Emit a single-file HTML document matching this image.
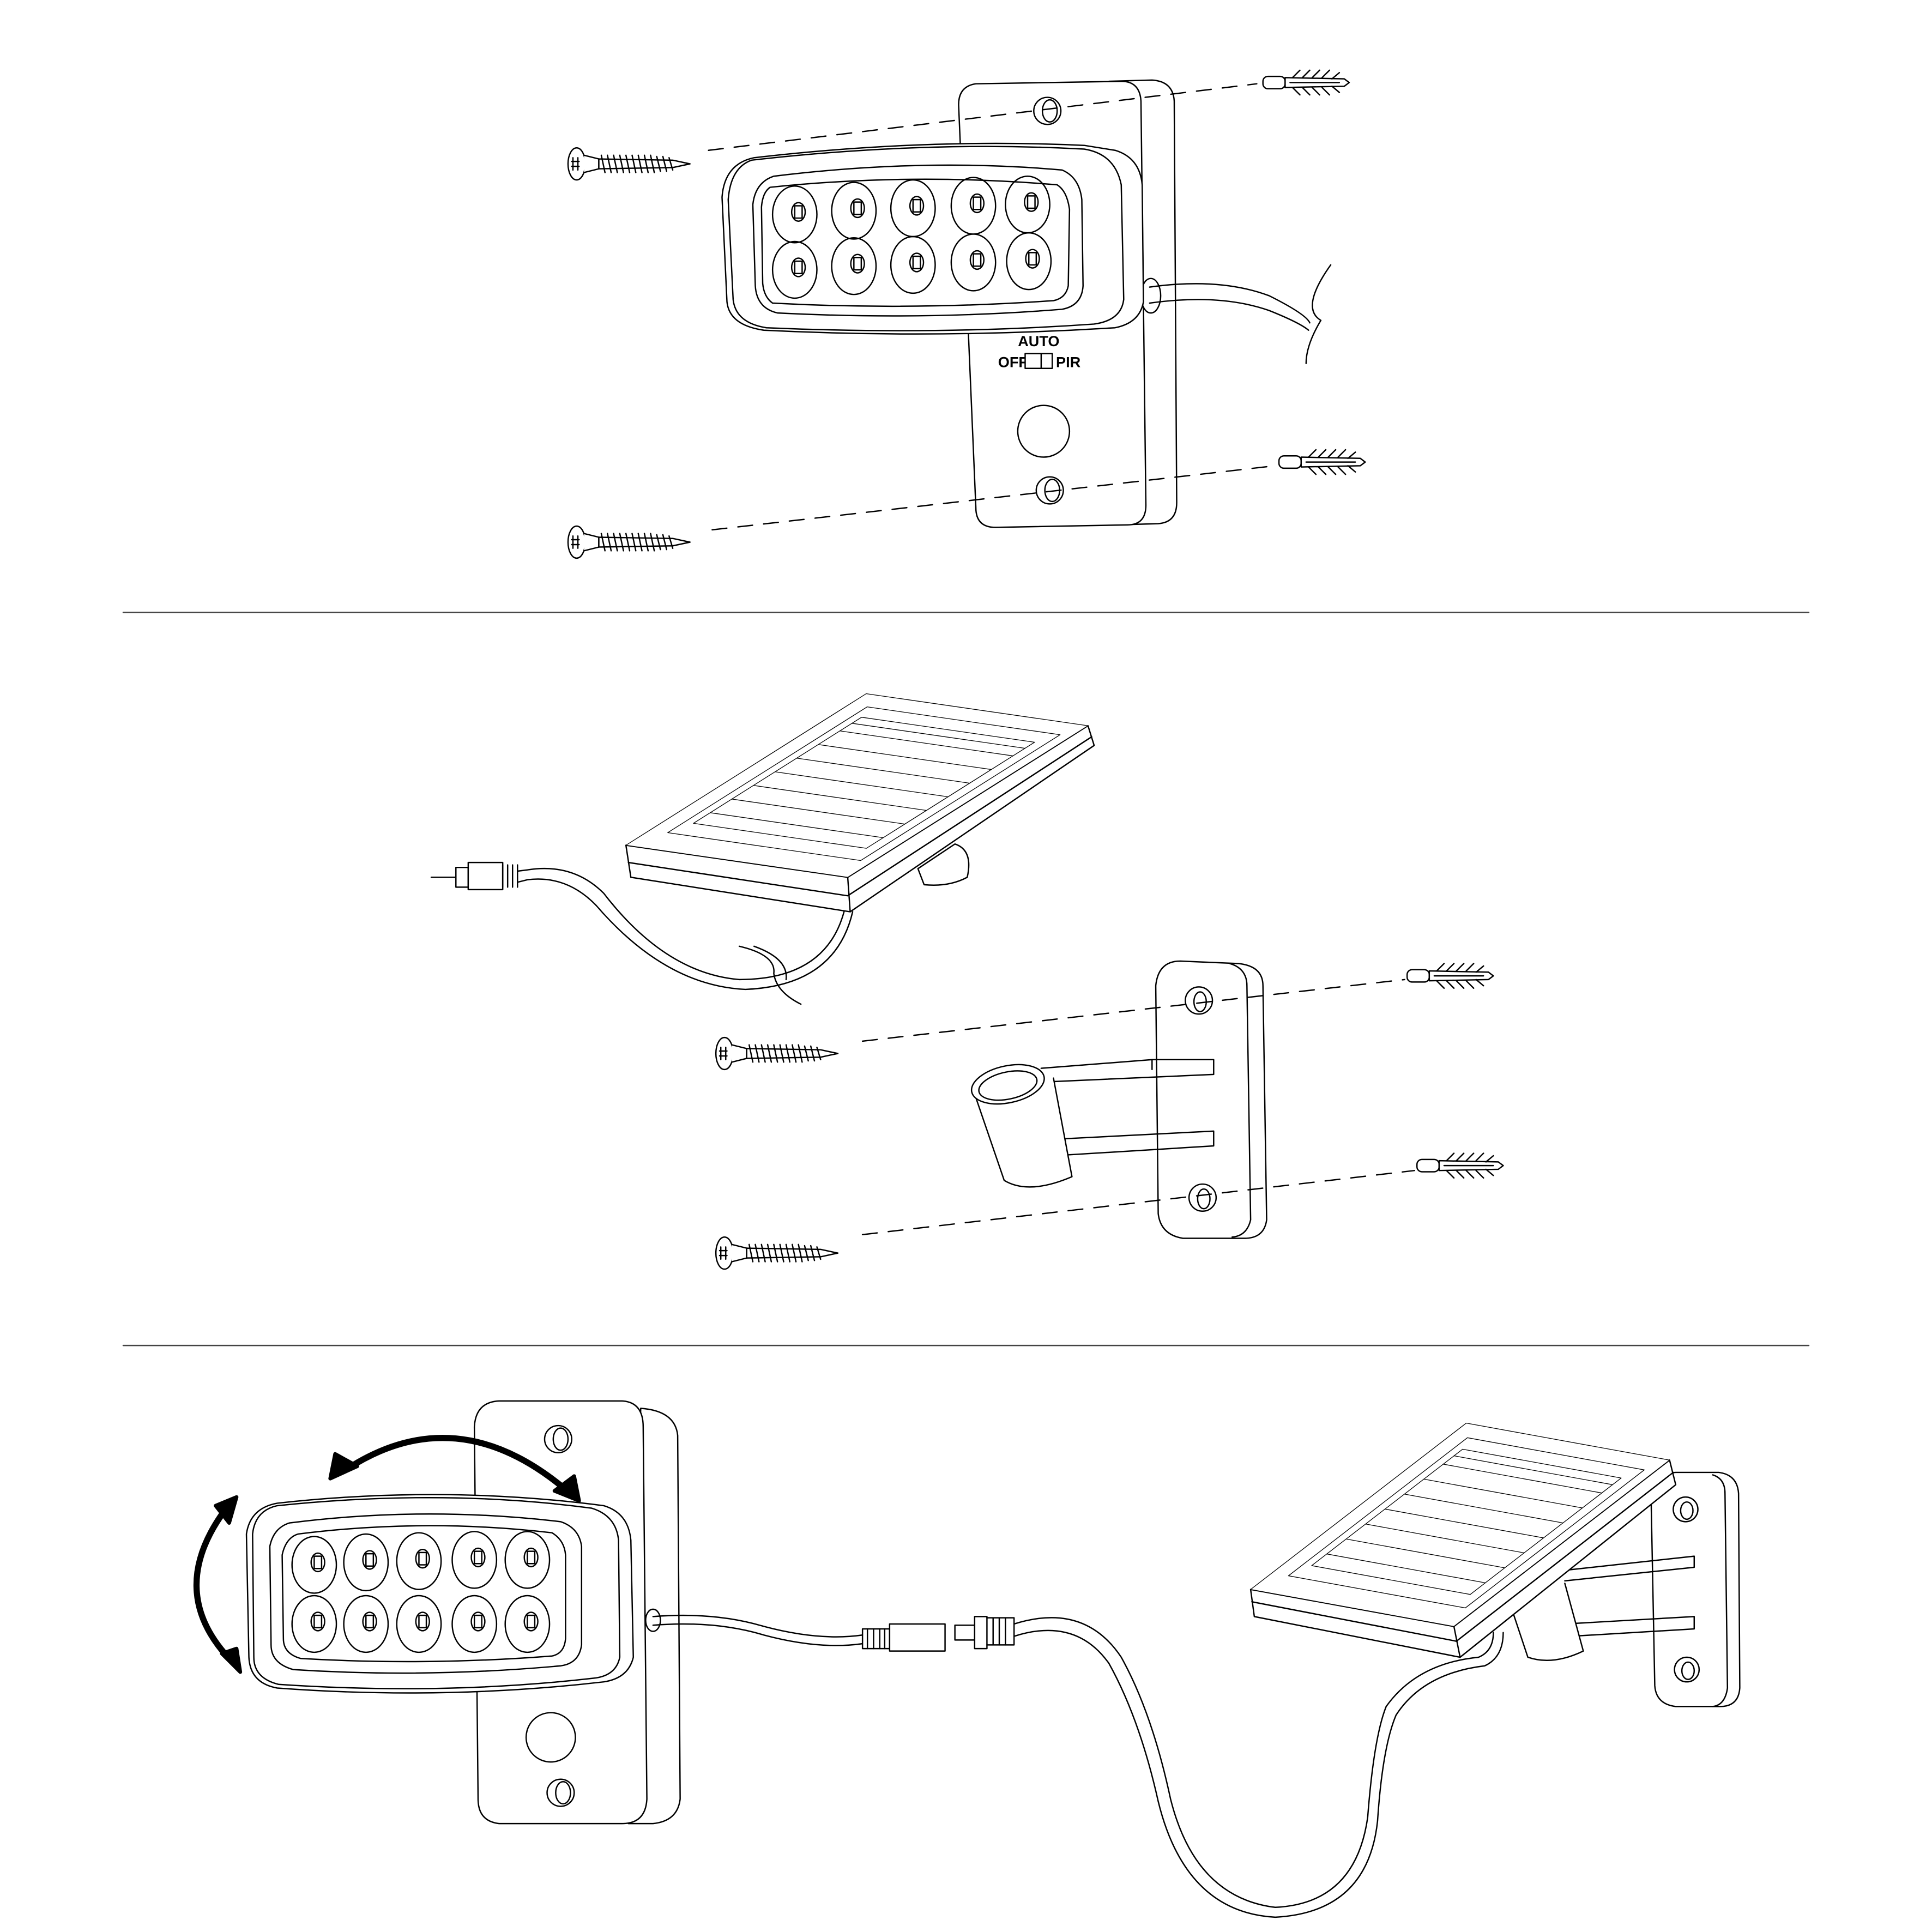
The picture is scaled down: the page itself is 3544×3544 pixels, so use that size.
<!DOCTYPE html>
<html><head><meta charset="utf-8"><style>
html,body{margin:0;padding:0;background:#fff}
svg{display:block}
text{font-family:"Liberation Sans",sans-serif;font-weight:bold}
</style></head><body>
<svg width="3544" height="3544" viewBox="0 0 1568 1568" xmlns="http://www.w3.org/2000/svg">
<defs>
<g id="screw" fill="#fff" stroke="#000" stroke-width="1.1">
  <ellipse cx="0" cy="0" rx="7" ry="13"/>
  <path d="M-3 -5 v10 M1 -5 v10 M-4 -2 h6 M-4 2 h6"/>
  <path d="M6 -7 L18 -4 L18 4 L6 7"/>
  <path d="M18 -4 L78 -3 L92 0 L78 3 L18 4 Z"/>
  <path d="M20 -7 l3 14 M25 -7 l3 14 M30 -7 l3 14 M35 -7 l3 14 M40 -7 l3 14 M45 -7 l3 14 M50 -7 l3 14 M55 -7 l3 14 M60 -7 l3 14 M65 -6 l3 12 M70 -6 l3 12 M75 -5 l3 10" fill="none"/>
</g>
<g id="anchor" fill="#fff" stroke="#000" stroke-width="1.1">
  <rect x="0" y="-5" width="18" height="10" rx="4"/>
  <path d="M18 -4 L66 -3 L70 0 L66 3 L18 4 Z"/>
  <path d="M24 -4 l6 -6 M32 -4 l6 -6 M40 -4 l6 -6 M48 -4 l6 -6 M56 -3 l6 -5 M24 4 l6 6 M32 4 l6 6 M40 4 l6 6 M48 4 l6 6 M56 3 l6 5 M22 0 h40" fill="none"/>
</g>
<g id="led" fill="none" stroke="#000" stroke-width="1.1">
  <ellipse cx="0" cy="0" rx="18" ry="23"/>
  <ellipse cx="3" cy="-2" rx="5.5" ry="7.5"/>
  <rect x="0" y="-7" width="6" height="10"/>
</g>
<g id="panel" fill="#fff" stroke="#000">
  <path d="M0 0 L1 0 L1 1 L0 1 Z" vector-effect="non-scaling-stroke" stroke-width="1.3"/>
  <path d="M0.08 0.1 L0.95 0.1 L0.95 0.93 L0.08 0.93 Z" vector-effect="non-scaling-stroke" stroke-width="1.3" fill="none"/>
  <path d="M0.12 0.17 L0.9 0.17 L0.9 0.87 L0.12 0.87 Z" vector-effect="non-scaling-stroke" stroke-width="1.3" fill="none"/>
  <path d="M0.12 0.24 H0.9 M0.12 0.33 H0.9 M0.12 0.42 H0.9 M0.12 0.51 H0.9 M0.12 0.6 H0.9 M0.12 0.69 H0.9 M0.12 0.78 H0.9 M0.12 0.83 H0.9" vector-effect="non-scaling-stroke" stroke-width="1.3" fill="none"/>
</g>
</defs>

<g fill="none" stroke="#000" stroke-width="1.1" stroke-linecap="round" stroke-linejoin="round">
<line x1="100" y1="497" x2="1468" y2="497" stroke="#444"/>
<line x1="100" y1="1092" x2="1468" y2="1092" stroke="#444"/>

<!-- ===== TOP SECTION ===== -->
<path d="M900 66 L935 65 Q952 66 953 82 L955 408 Q955 424 940 425 L905 426 Z" fill="#fff"/>
<path d="M792 68 L910 66 Q925 66 926 82 L930 410 Q930 426 915 426 L808 428 Q792 428 792 412 L778 85 Q778 70 792 68 Z" fill="#fff"/>
<circle cx="850" cy="90" r="11"/><ellipse cx="852" cy="90" rx="6" ry="9"/>
<circle cx="852" cy="398" r="11"/><ellipse cx="854" cy="398" rx="6" ry="9"/>
<circle cx="847" cy="350" r="21"/>
<text x="843" y="281" font-size="12" text-anchor="middle" stroke="none" fill="#000">AUTO</text>
<text x="810" y="298" font-size="12" stroke="none" fill="#000">OFF</text>
<rect x="832" y="287" width="22" height="12" fill="#fff"/>
<line x1="845" y1="287" x2="845" y2="299"/>
<text x="857" y="298" font-size="12" stroke="none" fill="#000">PIR</text>
<ellipse cx="934" cy="240" rx="8" ry="14" fill="#fff"/>
<path d="M933 233 Q990 225 1030 240 Q1060 255 1063 262"/>
<path d="M933 246 Q990 238 1030 252 Q1055 262 1062 268"/>
<path d="M1080 215 Q1055 250 1072 260 Q1060 280 1060 295"/>
<!-- head -->
<path d="M612 128 Q750 112 880 118 L905 122 Q925 128 927 150 L928 245 Q925 262 905 266 Q760 275 620 268 Q592 264 590 245 L586 160 Q588 133 612 128 Z" fill="#fff"/>
<path d="M610 130 Q750 114 880 121 Q905 125 910 150 L912 243 Q910 260 888 263 Q760 272 622 266 Q597 262 595 243 L591 162 Q593 136 610 130 Z"/>
<path d="M628 143 Q750 128 862 138 Q876 144 878 162 L879 232 Q878 248 862 251 Q750 260 631 254 Q614 250 613 232 L611 166 Q613 148 628 143 Z"/>
<path d="M625 152 Q740 140 858 150 Q866 155 868 170 L867 232 Q865 242 855 244 Q740 252 627 246 Q620 241 619 230 L618 168 Q619 156 625 152 Z"/>
<use href="#led" x="645" y="174"/><use href="#led" x="693" y="171"/><use href="#led" x="741" y="169"/><use href="#led" x="790" y="167"/><use href="#led" x="834" y="166"/>
<use href="#led" x="645" y="219"/><use href="#led" x="693" y="216"/><use href="#led" x="741" y="215"/><use href="#led" x="790" y="213"/><use href="#led" x="835" y="212"/>
<use href="#screw" x="468" y="133"/>
<use href="#screw" x="468" y="440"/>
<path d="M575 122 L1020 68" stroke-dasharray="12 9"/>
<path d="M578 430 L1035 378" stroke-dasharray="12 9"/>
<use href="#anchor" x="1025" y="67"/>
<use href="#anchor" x="1038" y="375"/>

<!-- ===== MIDDLE SECTION ===== -->
<path d="M745 705 L775 685 Q790 690 785 712 Q770 720 750 718 Z" fill="#fff"/>
<path d="M508 686 L688 712 L883 589 L888 605 L690 740 L512 712 Z" fill="#fff"/>
<path d="M510 700 L688 727 L886 598"/>
<line x1="688" y1="712" x2="690" y2="740"/>
<use href="#panel" transform="matrix(180,26,195,-123,508,686)"/>
<path d="M350 712 h20 v-8 h10 v16 h-10 v-8"/>
<rect x="380" y="700" width="28" height="22" fill="#fff"/>
<path d="M408 702 v18 M412 702 v18 M416 702 v18 M420 702 v18"/>
<path d="M420 707 L428 706 Q465 700 490 725 Q540 790 600 795 Q670 795 685 740"/>
<path d="M420 716 L428 714 Q460 710 484 735 Q540 800 605 803 Q678 800 692 740"/>
<path d="M600 768 Q630 775 628 790 Q630 805 650 815"/>
<path d="M612 768 Q640 778 638 795"/>
<path d="M958 780 L1005 782 Q1025 784 1025 800 L1028 990 Q1026 1005 1010 1005 L960 1005 Q942 1002 940 985 L938 800 Q940 780 958 780 Z" fill="#fff"/>
<path d="M998 782 Q1012 786 1012 800 L1015 990 Q1012 1003 1000 1004"/>
<circle cx="973" cy="812" r="11"/><ellipse cx="974" cy="813" rx="5" ry="8"/>
<circle cx="976" cy="972" r="11"/><ellipse cx="977" cy="973" rx="5" ry="8"/>
<path d="M845 867 L935 860 L985 860 L985 872 L850 878"/>
<path d="M848 925 L985 918 L985 930 L855 938"/>
<path d="M935 860 L935 868"/>
<path d="M790 885 L815 958 Q835 970 870 955 L855 875" fill="#fff"/>
<ellipse cx="818" cy="880" rx="30" ry="15" fill="#fff" transform="rotate(-12 818 880)"/>
<ellipse cx="818" cy="881" rx="24" ry="11" transform="rotate(-12 818 881)"/>
<use href="#screw" x="588" y="855"/>
<use href="#screw" x="588" y="1017"/>
<path d="M700 845 L1140 795" stroke-dasharray="12 9"/>
<path d="M700 1002 L1148 950" stroke-dasharray="12 9"/>
<use href="#anchor" x="1142" y="792"/>
<use href="#anchor" x="1150" y="946"/>

<!-- ===== BOTTOM SECTION ===== -->
<path d="M520 1143 Q548 1145 550 1165 L552 1460 Q550 1478 530 1480 L510 1480 Z" fill="#fff"/>
<path d="M405 1137 L505 1137 Q522 1138 522 1158 L525 1460 Q524 1480 505 1480 L405 1480 Q388 1478 388 1460 L385 1158 Q386 1138 405 1137 Z" fill="#fff"/>
<circle cx="453" cy="1168" r="11"/><ellipse cx="455" cy="1168" rx="6" ry="9"/>
<circle cx="455" cy="1455" r="11"/><ellipse cx="457" cy="1455" rx="6" ry="9"/>
<circle cx="447" cy="1410" r="20"/>
<path d="M225 1220 Q360 1205 490 1222 Q510 1228 512 1250 L514 1345 Q510 1362 490 1365 Q360 1380 225 1370 Q203 1366 202 1345 L200 1245 Q203 1224 225 1220 Z" fill="#fff"/>
<path d="M225 1222 Q360 1208 480 1224 Q500 1230 502 1250 L503 1345 Q500 1360 482 1362 Q360 1376 226 1367 Q206 1362 206 1345 L205 1245 Q207 1226 225 1222 Z"/>
<path d="M235 1236 Q345 1222 455 1235 Q470 1240 472 1255 L472 1335 Q470 1350 455 1352 Q345 1362 238 1355 Q220 1350 220 1335 L219 1255 Q222 1240 235 1236 Z"/>
<path d="M242 1245 Q345 1232 448 1244 Q458 1250 459 1262 L459 1330 Q458 1342 448 1344 Q345 1352 244 1346 Q230 1342 230 1330 L229 1262 Q232 1248 242 1245 Z"/>
<use href="#led" x="255" y="1270"/>
<use href="#led" x="297" y="1268"/>
<use href="#led" x="340" y="1267"/>
<use href="#led" x="385" y="1266"/>
<use href="#led" x="428" y="1266"/>
<use href="#led" x="255" y="1318"/>
<use href="#led" x="297" y="1318"/>
<use href="#led" x="340" y="1318"/>
<use href="#led" x="385" y="1318"/>
<use href="#led" x="428" y="1318"/>
<path d="M282 1192 Q370 1135 458 1208" stroke-width="5"/>
<path d="M268 1200 L272 1180 L290 1190 Z" fill="#000" stroke-width="3"/>
<path d="M470 1218 L466 1198 L450 1210 Z" fill="#000" stroke-width="3"/>
<path d="M183 1225 Q135 1290 185 1345" stroke-width="5"/>
<path d="M192 1215 L175 1222 L186 1236 Z" fill="#000" stroke-width="3"/>
<path d="M195 1357 L180 1342 L192 1338 Z" fill="#000" stroke-width="3"/>
<ellipse cx="530" cy="1315" rx="6" ry="9" fill="#fff"/>
<path d="M530 1312 Q580 1308 620 1320 Q665 1332 700 1327"/>
<path d="M530 1319 Q580 1315 620 1327 Q665 1339 700 1334"/>
<rect x="700" y="1322" width="22" height="16" fill="#fff"/>
<path d="M704 1322 v16 M709 1322 v16 M714 1322 v16 M718 1322 v16"/>
<rect x="722" y="1318" width="45" height="22" fill="#fff"/>
<rect x="775" y="1319" width="16" height="12" fill="#fff"/>
<rect x="791" y="1312" width="10" height="26" fill="#fff"/>
<path d="M801 1313 h22 v22 h-22"/>
<path d="M806 1313 v22 M811 1313 v22 M816 1313 v22"/>
<path d="M823 1318 Q880 1300 910 1345 Q935 1390 950 1460 Q970 1540 1035 1548 Q1100 1545 1110 1475 Q1115 1410 1125 1385 Q1150 1350 1200 1345 Q1212 1340 1212 1325"/>
<path d="M823 1328 Q873 1312 900 1350 Q925 1395 940 1462 Q962 1552 1035 1556 Q1110 1552 1118 1478 Q1122 1418 1133 1392 Q1155 1358 1205 1352 Q1220 1345 1220 1325"/>
<path d="M1360 1195 L1395 1195 Q1410 1197 1411 1212 L1412 1370 Q1411 1385 1396 1385 L1360 1385 Q1344 1383 1343 1368 L1340 1215 Q1342 1196 1360 1195 Z" fill="#fff"/>
<path d="M1390 1197 Q1400 1200 1400 1212 L1402 1370 Q1400 1384 1390 1385"/>
<circle cx="1368" cy="1225" r="10"/><ellipse cx="1369" cy="1226" rx="5" ry="7"/>
<circle cx="1369" cy="1355" r="10"/><ellipse cx="1370" cy="1356" rx="5" ry="7"/>
<path d="M1265 1275 L1375 1263 L1375 1272 L1270 1283"/>
<path d="M1270 1318 L1375 1312 L1375 1322 L1275 1328"/>
<path d="M1225 1300 L1240 1345 Q1260 1352 1285 1340 L1270 1285" fill="#fff"/>
<path d="M1015 1290 L1180 1320 L1355 1185 L1360 1205 L1185 1345 L1018 1312 Z" fill="#fff"/>
<path d="M1016 1300 L1182 1332 L1358 1195"/>
<line x1="1180" y1="1320" x2="1185" y2="1345"/>
<use href="#panel" transform="matrix(165,30,175,-135,1015,1290)"/>
</g>
</svg>
</body></html>
